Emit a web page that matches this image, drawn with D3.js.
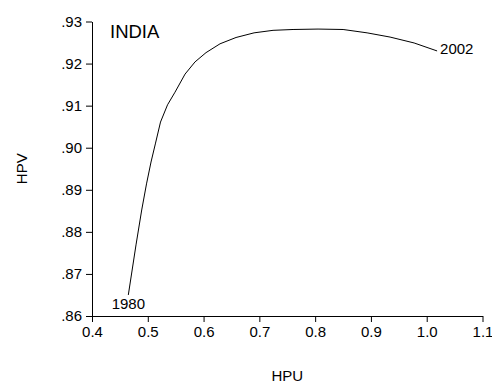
<!DOCTYPE html>
<html>
<head>
<meta charset="utf-8">
<script src="https://cdn.jsdelivr.net/npm/d3@7"></script>
<style>
  html, body { margin: 0; padding: 0; background: #fff; }
  svg { display: block; font-family: "Liberation Sans", Arial, sans-serif; }
</style>
</head>
<body>
<div id="chart"></div>
<script>
const years = [1980, 1981, 1982, 1983, 1984, 1985, 1986, 1987, 1988, 1989, 1990, 1991,
               1992, 1993, 1994, 1995, 1996, 1997, 1998, 1999, 2000, 2001, 2002];
const hpu = [0.4651, 0.4789, 0.4891, 0.4977, 0.5058, 0.5139, 0.5228, 0.5354, 0.5488, 0.5668,
             0.5847, 0.6044, 0.6295, 0.6582, 0.6905, 0.7245, 0.7604, 0.8052, 0.8501, 0.8931,
             0.9343, 0.9774, 1.0186];
const hpv = [0.8650, 0.8769, 0.8852, 0.8914, 0.8966, 0.9011, 0.9061, 0.9102, 0.9132, 0.9175,
             0.9204, 0.9226, 0.9247, 0.9262, 0.9273, 0.9279, 0.9281, 0.9282, 0.9281, 0.9273,
             0.9263, 0.9249, 0.9230];
const xTicks = [0.4, 0.5, 0.6, 0.7, 0.8, 0.9, 1.0, 1.1];
const yTicks = [0.86, 0.87, 0.88, 0.89, 0.90, 0.91, 0.92, 0.93];
const title = "INDIA";
const xLabel = "HPU";
const yLabel = "HPV";

const W = 492, H = 385;
const svg = d3.select("#chart").append("svg").attr("width", W).attr("height", H);

const x = d3.scaleLinear().domain([0.4, 1.1]).range([92, 482.5]);
const y = d3.scaleLinear().domain([0.86, 0.93]).range([316, 21.5]);

const xAxis = d3.axisBottom(x).tickValues(xTicks).tickFormat(d3.format(".1f"))
  .tickSizeInner(6).tickSizeOuter(0).tickPadding(4);
const yAxis = d3.axisLeft(y).tickValues(yTicks)
  .tickFormat(d => d3.format(".2f")(d).replace(/^0/, ""))
  .tickSizeInner(6).tickSizeOuter(0).tickPadding(4);

const gx = svg.append("g").attr("transform", "translate(0,316)").call(xAxis);
const gy = svg.append("g").attr("transform", "translate(92,0)").call(yAxis);
[gx, gy].forEach(g => {
  g.selectAll("path").attr("stroke", "#000").attr("stroke-width", 1);
  g.selectAll("line").attr("stroke", "#000").attr("stroke-width", 1);
  g.selectAll("text").attr("fill", "#000").style("font-size", "15px")
    .style("font-family", "'Liberation Sans', Arial, sans-serif");
});

const pts = years.map((yr, i) => ({ yr, u: hpu[i], v: hpv[i] }));
const line = d3.line().x(d => x(d.u)).y(d => y(d.v));
svg.append("path").datum(pts).attr("d", line)
  .attr("fill", "none").attr("stroke", "#000").attr("stroke-width", 1);

const first = pts[0], last = pts[pts.length - 1];
svg.append("text").attr("x", x(first.u)).attr("y", y(first.v) + 14)
  .attr("text-anchor", "middle").style("font-size", "15px").text(first.yr);
svg.append("text").attr("x", x(last.u) + 3).attr("y", y(last.v) + 3)
  .attr("text-anchor", "start").style("font-size", "15px").text(last.yr);

svg.append("text").attr("x", 110).attr("y", 37.5).style("font-size", "18.5px").text(title);

svg.append("text").attr("x", (x.range()[0] + x.range()[1]) / 2).attr("y", 381)
  .attr("text-anchor", "middle").style("font-size", "15px").text(xLabel);
svg.append("text")
  .attr("transform", `translate(26.5,${(y.range()[0] + y.range()[1]) / 2}) rotate(-90)`)
  .attr("text-anchor", "middle").style("font-size", "15px").text(yLabel);
</script>
</body>
</html>
